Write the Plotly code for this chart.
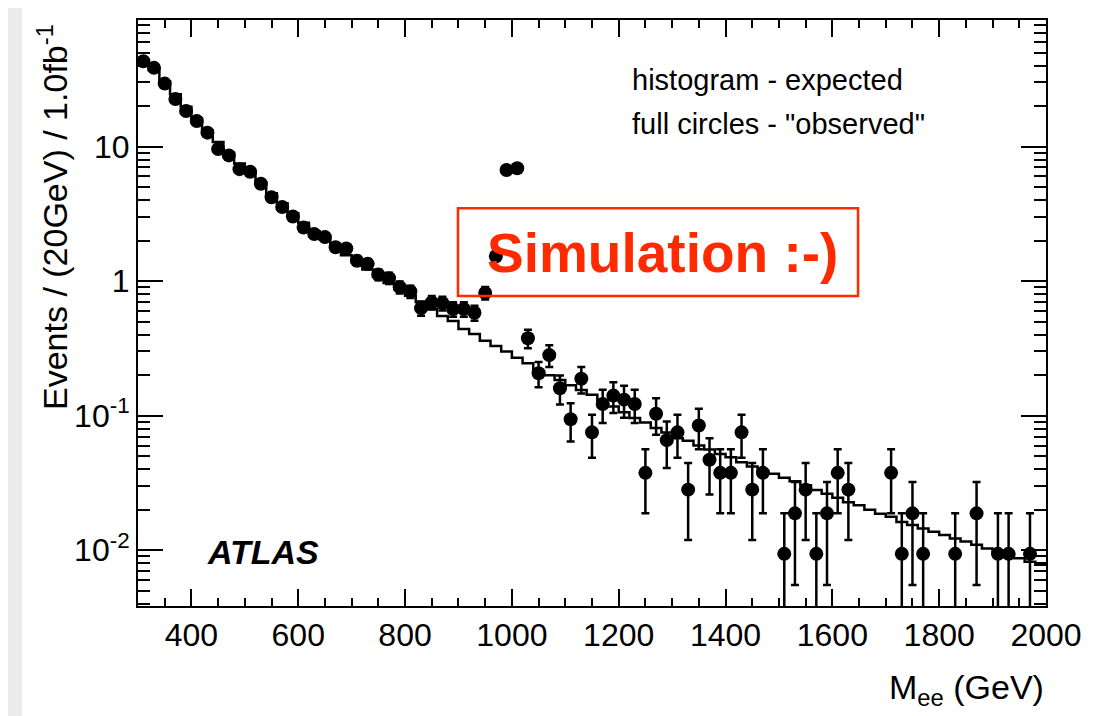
import math
import plotly.graph_objects as go

# ---------------- data ----------------
bin_edges = list(range(300, 2001, 20))           # 20 GeV bins, 300..2000
bin_centers = [e + 10 for e in bin_edges[:-1]]

event_weight = 0.0094   # events per simulated entry (1 entry -> 0.0094 / 20GeV / fb^-1)

observed_counts = [
    4585, 4096, 3128, 2404, 1957, 1649, 1351, 1021, 915, 723,
    691, 564, 447, 378, 322, 266, 238, 226, 190, 186,
    151, 143, 119, 112, 96, 89, 67, 74, 73, 66,
    66, 62, 87, 163, 713, 734, 40, 22, 30, 17,
    10, 20, 8, 13, 15, 14, 13, 4, 11, 7,
    8, 3, 9, 5, 4, 4, 8, 3, 4, 0,
    1, 2, 3, 1, 2, 4, 3, 0, 0, 0,
    4, 1, 2, 1, 0, 0, 1, 0, 2, 0,
    1, 1, 0, 1, 0,
]

expected = [
    43.5, 37.0, 30.5, 24.5, 19.8, 16.2, 13.2, 10.8, 9.0, 7.5,
    6.4, 5.4, 4.5, 3.8, 3.2, 2.72, 2.35, 2.05, 1.78, 1.56,
    1.38, 1.22, 1.08, 0.97, 0.87, 0.78, 0.70, 0.62, 0.55, 0.505,
    0.44, 0.405, 0.36, 0.33, 0.30, 0.27, 0.245, 0.215, 0.20, 0.184,
    0.168, 0.155, 0.143, 0.13, 0.117, 0.106, 0.096, 0.089, 0.081, 0.075,
    0.068, 0.065, 0.060, 0.056, 0.052, 0.049, 0.045, 0.042, 0.039, 0.037,
    0.0345, 0.0325, 0.0304, 0.028, 0.0263, 0.0245, 0.0227, 0.0216, 0.0200, 0.0187,
    0.0177, 0.0162, 0.0154, 0.0145, 0.0137, 0.0130, 0.0122, 0.0116, 0.0110, 0.0103,
    0.0098, 0.0092, 0.0087, 0.0082, 0.0078,
]

y_tick_vals = [0.01, 0.1, 1, 10]
y_tick_text = ["10<sup>-2</sup>", "10<sup>-1</sup>", "1", "10"]
x_range = [300, 2000]
y_range = [0.00385, 87.3]

# ---------------- derived ----------------
obs_x, obs_y, obs_err = [], [], []
for c, n in zip(bin_centers, observed_counts):
    if n > 0:
        obs_x.append(c)
        obs_y.append(n * event_weight)
        obs_err.append(math.sqrt(n) * event_weight)

hist_x = bin_edges
hist_y = expected + [expected[-1]]

minor_y = [m * 10.0 ** e for e in range(-3, 2) for m in range(2, 10)]

FONT = "Liberation Sans, Arial, Helvetica, sans-serif"
RED = "#ff2a00"

fig = go.Figure()
fig.add_trace(go.Scatter(
    x=hist_x, y=hist_y, mode="lines", line=dict(color="black", width=2.5, shape="hv"),
    hoverinfo="skip", showlegend=False,
))
fig.add_trace(go.Scatter(
    x=obs_x, y=obs_y, mode="markers",
    marker=dict(color="black", size=14, symbol="circle"),
    error_y=dict(type="data", array=obs_err, color="black", thickness=2.5, width=4),
    showlegend=False,
))

fig.update_layout(
    width=1086, height=708,
    margin=dict(l=130, r=48, t=10, b=110),
    paper_bgcolor="white", plot_bgcolor="white",
    font=dict(family=FONT, color="black"),
    xaxis=dict(
        range=x_range, showgrid=False, zeroline=False,
        showline=True, linecolor="black", linewidth=2, mirror="ticks",
        ticks="inside", ticklen=17, tickwidth=2, tickcolor="black",
        tickmode="linear", tick0=0, dtick=200,
        tickfont=dict(size=32, family=FONT),
        minor=dict(ticks="inside", ticklen=8, tickwidth=2, tickcolor="black", dtick=50, showgrid=False),
    ),
    yaxis=dict(
        type="log", range=[math.log10(y_range[0]), math.log10(y_range[1])],
        showgrid=False, zeroline=False,
        showline=True, linecolor="black", linewidth=2, mirror="ticks",
        ticks="inside", ticklen=25, tickwidth=2, tickcolor="black",
        tickmode="array", tickvals=y_tick_vals, ticktext=y_tick_text,
        tickfont=dict(size=32, family=FONT),
        minor=dict(ticks="inside", ticklen=12, tickwidth=2, tickcolor="black",
                   tickmode="array", tickvals=minor_y, showgrid=False),
    ),
    shapes=[
        dict(type="rect", xref="paper", yref="paper", x0=-0.1432, x1=-0.1278, y0=-0.19, y1=1.04,
             fillcolor="#ececec", line=dict(width=0), layer="below"),
        dict(type="rect", xref="paper", yref="paper", x0=0.3524, x1=0.793, y0=0.529, y1=0.6786,
             fillcolor="rgba(0,0,0,0)", line=dict(color=RED, width=2.5)),
    ],
    annotations=[
        dict(text="Events / (20GeV) / 1.0fb<sup>-1</sup>", xref="paper", yref="paper",
             x=-0.0936, y=0.9966, xanchor="center", yanchor="top", textangle=-90,
             showarrow=False, font=dict(size=34, family=FONT)),
        dict(text="M<sub>ee</sub> (GeV)", xref="paper", yref="paper",
             x=1.0, y=-0.1429, xanchor="right", yanchor="middle",
             showarrow=False, font=dict(size=34, family=FONT)),
        dict(text="histogram - expected", xref="paper", yref="paper",
             x=0.5419, y=0.898, xanchor="left", yanchor="middle",
             showarrow=False, font=dict(size=29, family=FONT)),
        dict(text="full circles - \"observed\"", xref="paper", yref="paper",
             x=0.5419, y=0.823, xanchor="left", yanchor="middle",
             showarrow=False, font=dict(size=29, family=FONT)),
        dict(text="<b><i>ATLAS</i></b>", xref="paper", yref="paper",
             x=0.074, y=0.0918, xanchor="left", yanchor="middle",
             showarrow=False, font=dict(size=34, family=FONT)),
        dict(text="<b>Simulation :-)</b>", xref="paper", yref="paper",
             x=0.578, y=0.6026, xanchor="center", yanchor="middle",
             showarrow=False, font=dict(size=55, family=FONT, color=RED)),
    ],
)

fig.write_html("out.html")
